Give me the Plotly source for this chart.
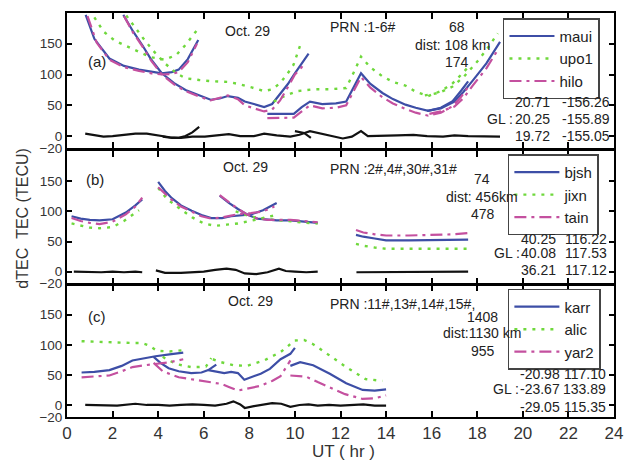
import plotly.graph_objects as go

# ---------------- data (UT hours, TEC / dTEC in TECU); None separates arcs ----------------
# Panel (a)  PRN 1-6#
a_maui_ut = [0.82, 1.2, 1.86, 2.5, 3.16, 3.7, 4.16, 4.6, 4.9, 5.3, 5.76, None,
             2.47, 2.9, 3.3, 3.7, 4.16, 4.7, 5.2, 5.8, 6.3, 6.7, 7.06, 7.5, 7.8, 8.2, 8.65, 9.0, 9.35, 9.7, 9.96, 10.3, 10.6, None,
             8.79, 9.3, 9.95, 10.3, 10.66, 11.2, 11.8, 12.25, 12.6, 12.9, 13.3, 13.84, 14.3, 14.85, 15.3, 15.85, 16.4, 16.9, 17.3, 17.6, None,
             15.8, 16.4, 17.0, 17.4, 17.8, 18.4, 19.0]
a_maui = [197, 158, 126, 114, 108, 105, 102, 104, 108, 125, 156, None,
          197, 170, 148, 124, 102, 86, 75, 66, 59, 61, 65, 62, 56, 52, 47, 52, 68, 85, 100, 118, 134, None,
          36, 36, 36, 47, 56, 52, 53, 56, 80, 102, 85, 70, 60, 51, 46, 41, 46, 56, 74, 89, None,
          41, 45, 56, 72, 90, 118, 153]
a_upo1_ut = [1.2, 1.6, 2.1, 2.6, 3.2, 3.7, 4.3, 4.8, 5.2, 5.7, None,
             2.6, 3.0, 3.4, 3.8, 4.3, 4.8, 5.2, 5.8, 6.4, 7.06, 7.6, 8.1, 8.65, 9.0, 9.35, 9.65, 9.94, 10.3, None,
             9.07, 9.6, 10.1, 10.8, 11.5, 12.25, 12.6, 12.9, 13.3, 13.84, 14.3, 14.85, 15.3, 15.85, 16.4, 16.9, 17.3, 17.6, None,
             15.7, 16.3, 16.9, 17.4, 18.0, 18.5, 18.9]
a_upo1 = [193, 170, 155, 146, 136, 128, 124, 132, 148, 172, None,
          196, 175, 156, 138, 118, 102, 94, 91, 89, 88, 84, 79, 73, 76, 86, 100, 116, 155, None,
          56, 66, 73, 76, 76, 78, 105, 129, 112, 97, 88, 82, 72, 65, 73, 85, 100, 112, None,
          66, 70, 80, 96, 121, 145, 167]
a_hilo_ut = [0.9, 1.3, 1.86, 2.5, 3.16, 3.7, 4.16, 4.6, 4.9, 5.3, 5.7, None,
             2.5, 2.9, 3.3, 3.7, 4.16, 4.7, 5.2, 5.8, 6.3, 6.7, 7.06, 7.5, 7.8, 8.2, 8.65, 9.0, 9.35, 9.7, 10.0, 10.3, 10.5, None,
             8.79, 9.3, 9.95, 10.3, 10.66, 11.2, 11.8, 12.25, 12.6, 12.9, 13.3, 13.84, 14.3, 14.85, 15.3, 15.85, 16.4, 16.9, 17.3, 17.6, None,
             15.9, 16.4, 17.0, 17.4, 17.8, 18.4, 18.9]
a_hilo = [195, 152, 124, 112, 106, 102, 100, 101, 104, 120, 150, None,
          195, 168, 146, 122, 100, 84, 73, 64, 58, 62, 66, 60, 50, 45, 40, 43, 58, 80, 100, 112, 108, None,
          29, 29, 30, 40, 50, 45, 46, 50, 74, 96, 79, 63, 53, 44, 38, 33, 38, 48, 64, 80, None,
          36, 40, 48, 62, 82, 110, 140]
a_dtec_ut = [0.8, 1.2, 1.6, 2.0, 2.5, 3.0, 3.5, 4.0, 4.5, 4.9, 5.2, 5.5, 5.8, None,
             4.2, 4.6, 5.0, 5.5, 6.05, 6.6, 7.1, 7.6, 8.2, 8.65, 9.2, 9.8, 10.2, 10.66, 11.1, 11.6, 12.1, 12.5, 12.9, 13.2,
             13.8, 14.5, 15.2, 15.8, 16.5, 17.0, 17.6, 18.2, 19.0, None,
             10.0, 10.4, 10.7]
a_dtec = [4, 2, -1, 0, 2, 4, 4, 1, -2, -3, 0, 6, 15, None,
          -1, -3, -3, -1, -1, 1, 3, 0, 0, 4, 1, -1, 2, 8, 4, 0, -4, -1, 8, 0,
          0, 1, 2, 0, -1, 1, 0, 0, -1, None,
          8, 5, -3]

# Panel (b)  PRN 2#,4#,30#,31#
b_bjsh_ut = [0.2, 0.6, 1.0, 1.43, 2.0, 2.58, 3.0, 3.3, None,
             4.0, 4.3, 4.6, 5.0, 5.47, 5.9, 6.33, 6.8, 7.2, 7.6, 8.07, 8.6, 9.2, None,
             6.7, 7.1, 7.5, 7.9, 8.35, 8.8, 9.2, 9.8, 10.4, 11.0, None,
             12.68, 13.0, 13.5, 14.0, 15.0, 16.0, 17.0, 17.6]
b_bjsh = [92, 88, 86, 85, 87, 98, 110, 120, None,
          149, 134, 122, 110, 101, 94, 89, 89, 92, 93, 95, 102, 114, None,
          126, 114, 104, 95, 88, 86, 85, 85, 83, 81, None,
          61, 58, 55, 52, 52, 52, 52, 53]
b_jixn_ut = [0.2, 0.6, 1.0, 1.43, 2.0, 2.5, 3.16, None,
             4.0, 4.4, 4.9, 5.5, 6.0, 6.5, 7.0, 7.5, 7.9, 8.5, 9.07, None,
             7.4, 8.0, 8.6, 9.37, 10.0, 10.5, 11.0, None,
             12.68, 13.0, 13.5, 14.0, 15.0, 16.0, 17.0, 17.6]
b_jixn = [80, 76, 73, 72, 74, 84, 102, None,
          139, 120, 106, 90, 80, 76, 78, 80, 83, 88, 93, None,
          100, 92, 88, 85, 83, 81, 80, None,
          46, 43, 40, 38, 38, 38, 38, 38]
b_tain_ut = [0.2, 0.6, 1.0, 1.43, 2.0, 2.58, 3.0, 3.3, None,
             4.0, 4.3, 4.6, 5.0, 5.47, 5.9, 6.33, 6.8, 7.2, 7.6, 8.07, 8.6, 9.1, None,
             6.7, 7.1, 7.5, 7.9, 8.35, 8.8, 9.2, 9.8, 10.4, 11.0, None,
             12.68, 13.0, 13.5, 14.0, 15.0, 16.0, 17.0, 17.6]
b_tain = [89, 84, 81, 79, 83, 95, 108, 123, None,
          140, 130, 119, 108, 99, 92, 88, 90, 93, 96, 97, 100, 108, None,
          127, 115, 104, 95, 88, 86, 86, 86, 84, 82, None,
          69, 65, 62, 60, 60, 61, 62, 64]
b_dtec_ut = [0.3, 1.0, 1.5, 2.0, 2.5, 3.0, 3.3, None,
             3.9, 4.3, 5.0, 5.5, 6.0, 6.5, 7.0, 7.4, 7.8, 8.3, 8.8, 9.3, 9.6, 10.0, 10.5, 11.0, None,
             12.7, 13.5, 14.5, 15.5, 16.5, 17.6]
b_dtec = [0, -1, -1, 0, -1, 0, -1, None,
          2, -2, -2, -1, 0, 3, 5, 3, -3, -4, -1, 5, 1, 0, -1, 0, None,
          -1, -1, -1, -1, -1, 0]

# Panel (c)  PRN 11#,13#,14#,15#
c_karr_ut = [0.64, 1.2, 1.86, 2.4, 2.87, 3.4, 3.88, 4.5, 5.1, None,
             3.8, 4.1, 4.46, 4.9, 5.45, 5.9, 6.2, 6.55, None,
             6.2, 6.6, 6.9, 7.2, 7.5, 7.78, 8.1, 8.5, 8.9, 9.37, 9.8, 10.0, None,
             9.8, 10.23, 10.8, 11.2, 11.53, 12.25, 12.97, 13.5, 14.0]
c_karr = [54, 55, 58, 65, 74, 78, 81, 84, 87, None,
          80, 70, 61, 56, 53, 54, 58, 67, None,
          58, 55, 53, 55, 53, 42, 46, 52, 60, 76, 85, 95, None,
          65, 71, 66, 58, 52, 36, 25, 24, 26]
c_alic_ut = [0.64, 1.2, 1.8, 2.4, 2.87, 3.3, 3.6, 3.95, 4.5, 5.1, None,
             4.2, 4.46, 4.9, 5.45, 5.76, 6.1, 6.33, None,
             6.4, 6.77, 7.3, 7.9, 8.65, 9.37, 9.7, 9.95, 10.4, 10.8, 11.53, 12.25, 13.1, 13.84]
c_alic = [106, 105, 104, 104, 103, 103, 99, 90, 89, 91, None,
          80, 74, 67, 63, 63, 64, 78, None,
          76, 71, 66, 65, 74, 88, 98, 107, 108, 101, 82, 63, 43, 40]
c_yar2_ut = [0.64, 1.2, 1.86, 2.4, 2.87, 3.4, 3.88, 4.5, 5.1, None,
             3.8, 4.2, 4.9, 5.4, 5.9, 6.4, 6.77, 7.1, 7.5, 7.9, 8.5, 9.0, 9.37, 9.8, None,
             9.8, 10.5, 11.0, 11.53, 12.2, 12.97, 13.5, 14.0]
c_yar2 = [46, 47, 49, 56, 63, 66, 68, 71, 76, None,
          70, 56, 46, 43, 41, 38, 35, 30, 24, 27, 32, 40, 48, 74, None,
          49, 47, 38, 29, 18, 10, 11, 16]
c_dtec_ut = [0.8, 1.5, 2.2, 3.0, 3.5, 4.0, 4.5, 5.0, 5.5, 6.0, 6.5, 7.0, 7.3, 7.6, 7.8, 8.2, 8.6, 9.0, 9.4,
             9.8, 10.2, 10.6, 11.0, 11.5, 12.0, 12.5, 13.0, 13.5, 14.0]
c_dtec = [0, -1, -1, 2, 0, 0, -1, 0, 1, 0, -1, 2, 6, 1, -5, -2, 0, 3, 2,
          -3, 0, 1, -1, 0, -1, 0, 1, -1, -1]

stations = [["maui", "upo1", "hilo"], ["bjsh", "jixn", "tain"], ["karr", "alic", "yar2"]]
panel_labels = ["(a)", "(b)", "(c)"]
prn_labels = ["PRN :1-6#", "PRN :2#,4#,30#,31#", "PRN :11#,13#,14#,15#,"]
dist_top = ["68", "74", "1408"]
dist_mid = ["dist: 108 km", "dist: 456km", "dist:1130 km"]
dist_bot = ["174", "478", "955"]
gl_lat = [["20.71", "20.25", "19.72"], ["40.25", "40.08", "36.21"], ["-20.98", "-23.67", "-29.05"]]
gl_lon = [["-156.26", "-155.89", "-155.05"], ["116.22", "117.53", "117.12"], ["117.10", "133.89", "115.35"]]
date_label = "Oct. 29"
x_ticks = list(range(0, 25, 2))
y_ticks = [-20, 0, 50, 100, 150]

series = [
    [(a_maui_ut, a_maui), (a_upo1_ut, a_upo1), (a_hilo_ut, a_hilo), (a_dtec_ut, a_dtec)],
    [(b_bjsh_ut, b_bjsh), (b_jixn_ut, b_jixn), (b_tain_ut, b_tain), (b_dtec_ut, b_dtec)],
    [(c_karr_ut, c_karr), (c_alic_ut, c_alic), (c_yar2_ut, c_yar2), (c_dtec_ut, c_dtec)],
]

# ---------------- styling ----------------
FONT = "Liberation Sans, Arial, sans-serif"
BLUE, GREEN, MAG, BLACK = "#3d4ea6", "#6fd83c", "#c4509f", "#111111"
line_styles = [dict(color=BLUE, width=2.2, dash="solid"),
               dict(color=GREEN, width=2.4, dash="3px,6px"),
               dict(color=MAG, width=2.2, dash="12px,5px,3px,5px")]

domains = [[0.665, 1.0], [0.330, 0.658], [0.0, 0.3276]]
legend_pos = [(0.797, 0.987), (0.806, 0.650), (0.806, 0.317)]
legend_names = ["legend", "legend2", "legend3"]

fig = go.Figure()
layout = dict(
    width=634, height=461,
    margin=dict(l=67, r=12, t=11, b=44),
    paper_bgcolor="white", plot_bgcolor="white",
    font=dict(family=FONT, color="#222"),
    showlegend=True,
)

annotations = []
for p in range(3):
    sfx = "" if p == 0 else str(p + 1)
    xa, ya = "x" + sfx, "y" + sfx
    for s in range(3):
        xs, ys = series[p][s]
        fig.add_trace(go.Scatter(x=xs, y=ys, mode="lines", name=stations[p][s],
                                 line=line_styles[s], connectgaps=False,
                                 xaxis=xa, yaxis=ya, legend=legend_names[p]))
    xs, ys = series[p][3]
    fig.add_trace(go.Scatter(x=xs, y=ys, mode="lines", line=dict(color=BLACK, width=2.2),
                             connectgaps=False, showlegend=False, xaxis=xa, yaxis=ya))

    layout["xaxis" + sfx] = dict(
        domain=[0, 1], range=[0, 24], tickvals=x_ticks, anchor=ya,
        ticks="inside", ticklen=6, tickwidth=1.5, tickcolor="black",
        showline=True, linewidth=2, linecolor="black", mirror="ticks",
        showgrid=False, zeroline=False, showticklabels=(p == 2),
        tickfont=dict(size=17, color="#333"),
    )
    if p > 0:
        layout["xaxis" + sfx]["matches"] = "x"
    layout["yaxis" + sfx] = dict(
        domain=domains[p], range=[-20, 200], tickvals=y_ticks, anchor=xa,
        ticks="inside", ticklen=5, tickwidth=1.5, tickcolor="black",
        showline=True, linewidth=2, linecolor="black", mirror="ticks",
        showgrid=False, zeroline=False,
        tickfont=dict(size=13.5, color="#333"),
    )
    lx, ly = legend_pos[p]
    layout[legend_names[p]] = dict(
        x=lx, y=ly, xanchor="left", yanchor="top", xref="paper", yref="paper",
        bgcolor="white", bordercolor="#444", borderwidth=1.5,
        font=dict(size=15, color="#222", family=FONT), itemwidth=45,
        tracegroupgap=0,
    )

    def ann(text, x, y, size=14, xanchor="center"):
        annotations.append(dict(text=text, x=x, y=y, xref=xa, yref=ya, showarrow=False,
                                xanchor=xanchor, yanchor="middle",
                                font=dict(size=size, color="#222", family=FONT)))

    top_vals = [(170.9, 120.7, 177.4), (173.5, 153.7, 170.2), (173.5, 147.0, 168.6)][p]
    ann(date_label, [7.91, 7.83, 8.04][p], top_vals[0])
    ann(panel_labels[p], [1.3, 1.21, 1.3][p], top_vals[1], size=15)
    ann(prn_labels[p], 11.45, top_vals[2], xanchor="left")

    dvals = [(177.4, 148.2, 120.7), (153.7, 124.0, 95.8), (145.4, 119.0, 89.2)][p]
    if p == 0:
        ann(dist_top[p], 17.11, dvals[0])
        ann(dist_mid[p], 16.93, dvals[1])
        ann(dist_bot[p], 17.1, dvals[2])
    else:
        ann(dist_top[p], 18.22, dvals[0])
        ann(dist_mid[p], [0, 16.56, 16.42][p], dvals[1], xanchor="left")
        ann(dist_bot[p], 18.25, dvals[2])

    gvals = [(56, 28.5, -0.6), (54, 31.3, 3.2), (51, 26.3, -3.4)][p]
    lat_x = [20.41, 20.67, 20.76][p]
    lon_x = [22.76, 22.75, 22.72][p]
    gl_x = [18.98, 19.29, 19.26][p]
    for r in range(3):
        ann(gl_lat[p][r], lat_x, gvals[r])
        ann(gl_lon[p][r], lon_x, gvals[r])
    ann("GL :", gl_x, gvals[1])

annotations.append(dict(text="dTEC\u00a0\u00a0TEC (TECU)", x=(22 - 67) / 555, y=(417 - 218) / 406,
                        xref="paper", yref="paper", showarrow=False, textangle=-90,
                        xanchor="center", yanchor="middle",
                        font=dict(size=16, color="#333", family=FONT)))
annotations.append(dict(text="UT ( hr )", x=(348 - 67) / 555, y=(417 - 452) / 406,
                        xref="paper", yref="paper", showarrow=False,
                        xanchor="center", yanchor="middle",
                        font=dict(size=17, color="#333", family=FONT)))

layout["annotations"] = annotations
fig.update_layout(**layout)
# remove the browser's default 8px page margin so the 634x461 figure fills the window exactly
fig.write_html("out.html", config={"displayModeBar": False},
               post_script="document.body.style.margin='0';")
